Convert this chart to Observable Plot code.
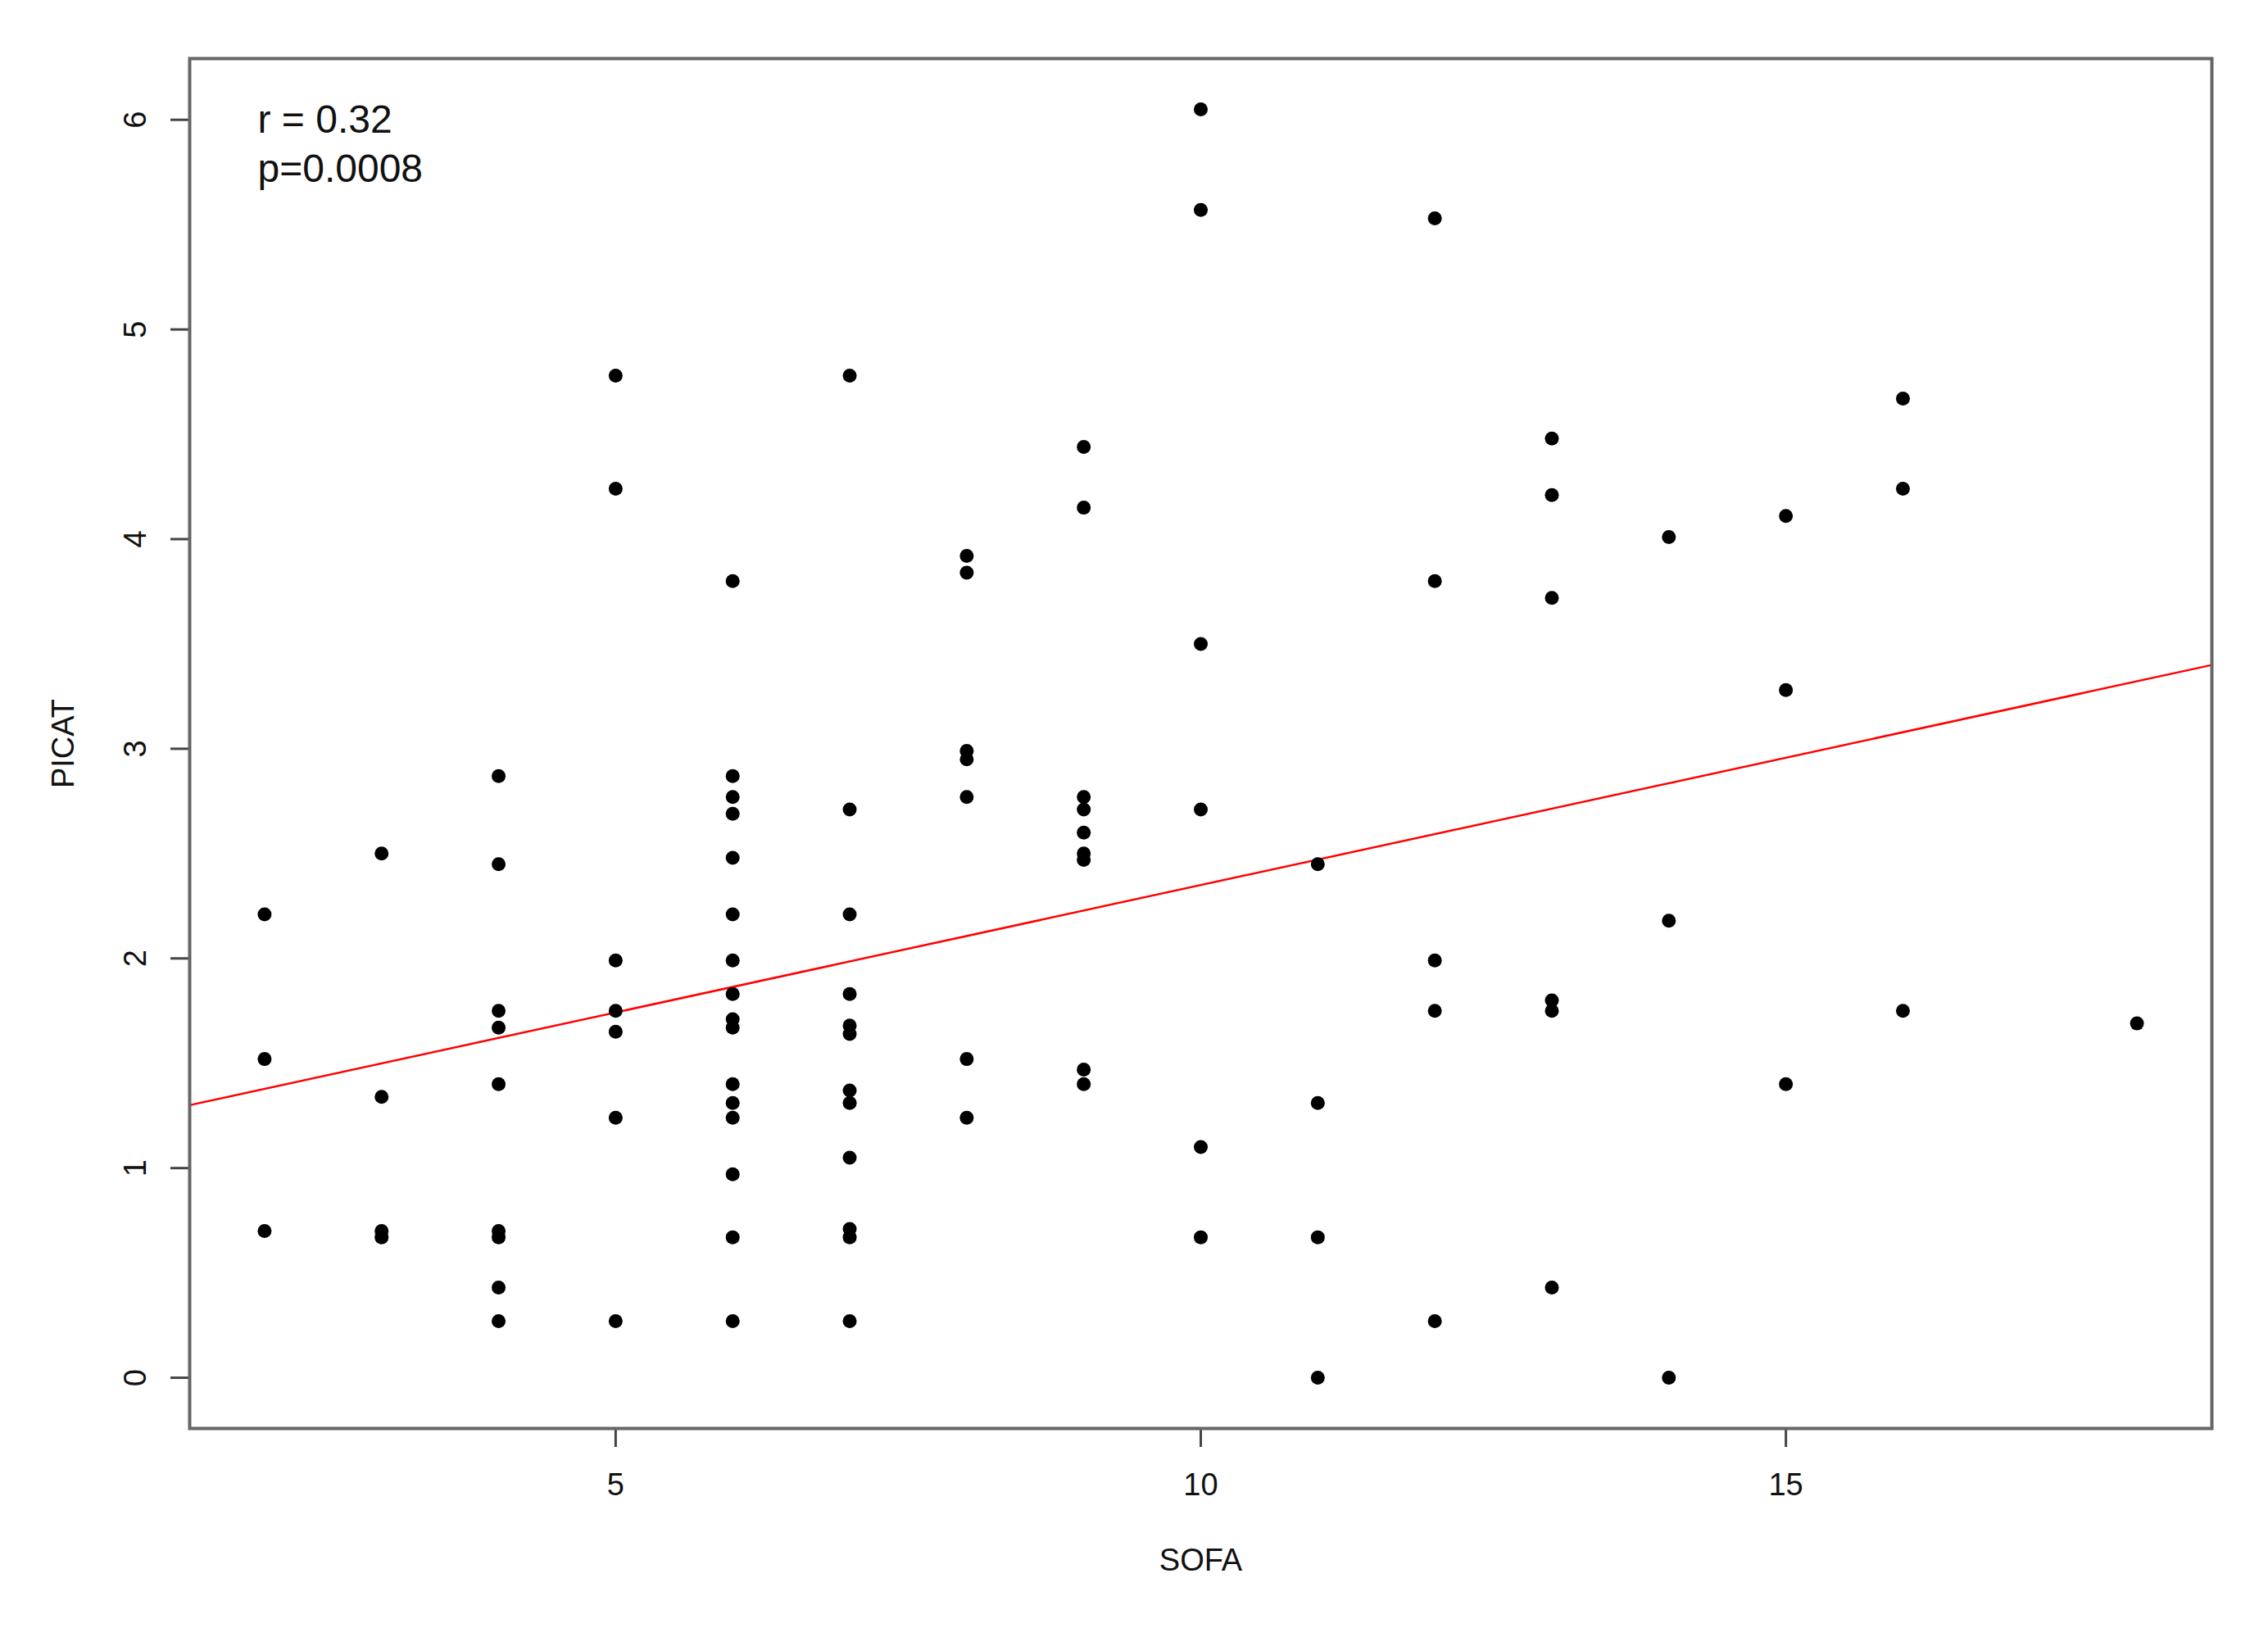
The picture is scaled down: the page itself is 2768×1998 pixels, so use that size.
<!DOCTYPE html>
<html>
<head>
<meta charset="utf-8">
<script src="https://cdn.jsdelivr.net/npm/d3@7"></script>
<script src="https://cdn.jsdelivr.net/npm/@observablehq/plot@0.6"></script>
<style>
  html, body { margin: 0; padding: 0; background: #fff; overflow: hidden; }
  #chart svg { display: block; }
</style>
</head>
<body>
<div id="chart"></div>
<script>
// ---- Data ----
const sofaLevels = [2, 3, 4, 5, 6, 7, 8, 9, 10, 11, 12, 13, 14, 15, 16, 18];
const picatBySofa = [
  [2.21, 1.52, 0.70],
  [2.50, 1.34, 0.70, 0.67],
  [2.87, 2.45, 1.75, 1.67, 1.40, 0.70, 0.67, 0.43, 0.27],
  [4.78, 4.24, 1.99, 1.75, 1.65, 1.24, 0.27],
  [3.80, 2.87, 2.77, 2.69, 2.48, 2.21, 1.99, 1.83, 1.71, 1.67, 1.40, 1.31, 1.24, 0.97, 0.67, 0.27],
  [4.78, 2.71, 2.21, 1.83, 1.68, 1.64, 1.37, 1.31, 1.05, 0.71, 0.67, 0.27],
  [3.92, 3.84, 2.99, 2.95, 2.77, 1.52, 1.24],
  [4.44, 4.15, 2.77, 2.71, 2.60, 2.50, 2.47, 1.47, 1.40],
  [6.05, 5.57, 3.50, 2.71, 1.10, 0.67],
  [2.45, 1.31, 0.67, 0.00],
  [5.53, 3.80, 1.99, 1.75, 0.27],
  [4.48, 4.21, 3.72, 1.80, 1.75, 0.43],
  [4.01, 2.18, 0.00],
  [4.11, 3.28, 1.40],
  [4.67, 4.24, 1.75],
  [1.69]
];
const xTicks = [5, 10, 15];
const yTicks = [0, 1, 2, 3, 4, 5, 6];
const fitIntercept = 1.135;
const fitSlope = 0.1215;
const annotationLines = ["r = 0.32", "p=0.0008"];
const xLabel = "SOFA";
const yLabel = "PICAT";

// ---- Derived tables ----
const points = sofaLevels.flatMap((s, i) => picatBySofa[i].map(p => ({sofa: s, picat: p})));
const padExtent = e => { const r = (e[1] - e[0]) * 0.04; return [e[0] - r, e[1] + r]; };
const xDomain = padExtent(d3.extent(points, d => d.sofa));
const yDomain = padExtent(d3.extent(points, d => d.picat));
const fitLine = xDomain.map(x => ({sofa: x, picat: fitIntercept + fitSlope * x}));

const FONT = "'Liberation Sans', Arial, Helvetica, sans-serif";

const chart = Plot.plot({
  width: 2768,
  height: 1998,
  marginLeft: 231,
  marginRight: 69,
  marginTop: 71,
  marginBottom: 255,
  style: {fontFamily: FONT, fontSize: "38px", color: "#111", background: "#fff"},
  x: {domain: xDomain},
  y: {domain: yDomain},
  marks: [
    Plot.axisX(xTicks, {tickSize: 23, tickPadding: 32, stroke: "#444", strokeWidth: 3,
      tickFormat: d => String(d), fontSize: 38, fill: "#111", label: null}),
    Plot.axisY(yTicks, {tickSize: 23, stroke: "#444", strokeWidth: 3,
      tickFormat: () => "", label: null}),
    Plot.text(yTicks, {frameAnchor: "left", y: d => d, text: d => String(d),
      rotate: -90, dx: -66, fontSize: 38, fill: "#111",
      textAnchor: "middle", lineAnchor: "middle"}),
    Plot.text([xLabel], {frameAnchor: "bottom", text: d => d, dy: 161,
      fontSize: 38, fill: "#111", lineAnchor: "middle"}),
    Plot.text([yLabel], {frameAnchor: "left", text: d => d, dx: -154, rotate: -90,
      fontSize: 38, fill: "#111", textAnchor: "middle", lineAnchor: "middle"}),
    Plot.text([annotationLines.join("\n")], {frameAnchor: "top-left", text: d => d,
      dx: 83, dy: 48, fontSize: 48, lineHeight: 1.25, fill: "#111",
      textAnchor: "start", lineAnchor: "top"}),
    Plot.line(fitLine, {x: "sofa", y: "picat", stroke: "#ff0000", strokeWidth: 2.5}),
    Plot.dot(points, {x: "sofa", y: "picat", r: 8.5, fill: "#000"}),
    Plot.frame({stroke: "#666", strokeWidth: 4})
  ]
});

document.getElementById("chart").appendChild(chart);
</script>
</body>
</html>
